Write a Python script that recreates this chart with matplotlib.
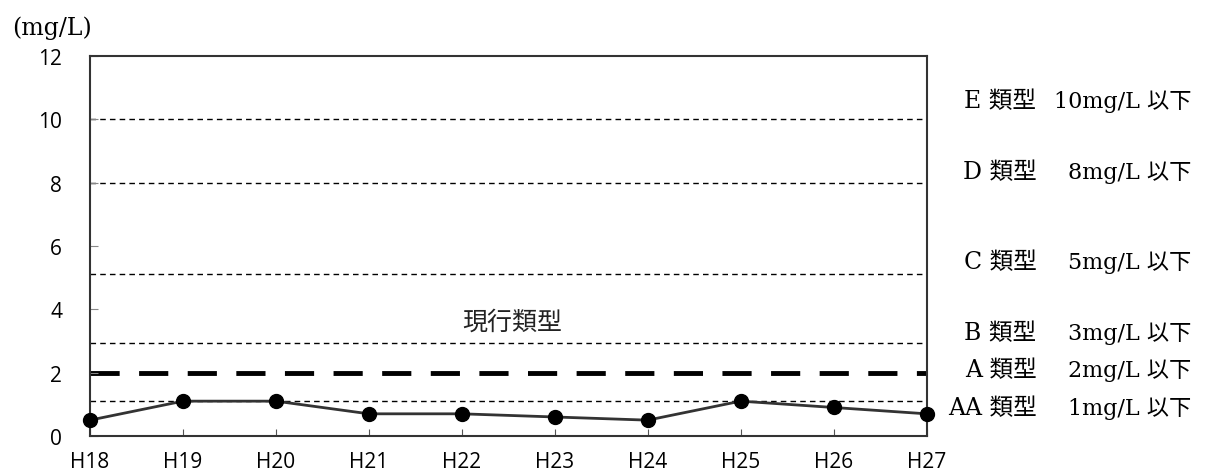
import matplotlib
matplotlib.use('Agg')
import matplotlib.pyplot as plt

years = ['H18', 'H19', 'H20', 'H21', 'H22', 'H23', 'H24', 'H25', 'H26', 'H27']
bod = [0.5, 1.1, 1.1, 0.7, 0.7, 0.6, 0.5, 1.1, 0.9, 0.7]

# standard lines (as drawn) and their labels
std_values = [10, 8, 5.1, 2.95, 1.1]
current_value = 2.0
type_names = ['E 類型', 'D 類型', 'C 類型', 'B 類型', 'A 類型', 'AA 類型']
type_limits = ['10mg/L 以下', '8mg/L 以下', '5mg/L 以下', '3mg/L 以下', '2mg/L 以下', '1mg/L 以下']
label_y = [10.6, 8.35, 5.5, 3.25, 2.1, 0.9]

serif = ['DejaVu Serif', 'Noto Sans CJK JP']

fig = plt.figure(figsize=(12.08, 4.77), dpi=100)
ax = fig.add_axes([0.0745, 0.0839, 0.6925, 0.7966])

x = list(range(len(years)))
for v in std_values:
    ax.axhline(v, color='black', lw=1.0, ls=(0, (4, 3)), zorder=1)
ax.axhline(current_value, color='black', lw=3.5, ls=(0, (6, 4)), zorder=1)

ax.plot(x, bod, color='#333333', lw=2, marker='o', markersize=10,
        markerfacecolor='black', markeredgecolor='black', zorder=3, clip_on=False)

ax.set_xlim(0, len(years) - 1)
ax.set_ylim(0, 12)
ax.set_xticks(x)
ax.set_xticklabels(years, fontsize=15, family='Open Sans')
ax.set_yticks(range(0, 13, 2))
ax.set_yticklabels([str(v) for v in range(0, 13, 2)], fontsize=15, family='Open Sans')
ax.tick_params(axis='x', direction='in', length=5, pad=11, color='#555555')
ax.tick_params(axis='y', direction='in', length=6, pad=20, color='#888888')
for s in ax.spines.values():
    s.set_linewidth(1.5)
    s.set_color('#333333')

ax.text(4.0, 3.6, '現行類型', fontsize=18, family=['Noto Sans CJK JP'],
        va='center', ha='left', color='#222222')

ax.text(-0.84, 12.92, '(mg/L)', fontsize=17, family=serif, va='center', ha='left',
        clip_on=False)

# right-hand labels: type name and limit, each right aligned
tr = ax.get_yaxis_transform()
for name, lim, y in zip(type_names, type_limits, label_y):
    ax.text((1037 - 90) / 837, y, name, fontsize=17, family=serif, va='center', ha='right',
            transform=tr, clip_on=False)
    ax.text((1192 - 90) / 837, y, lim, fontsize=16, family=serif, va='center', ha='right',
            transform=tr, clip_on=False)

fig.savefig('out.png', dpi=100)
